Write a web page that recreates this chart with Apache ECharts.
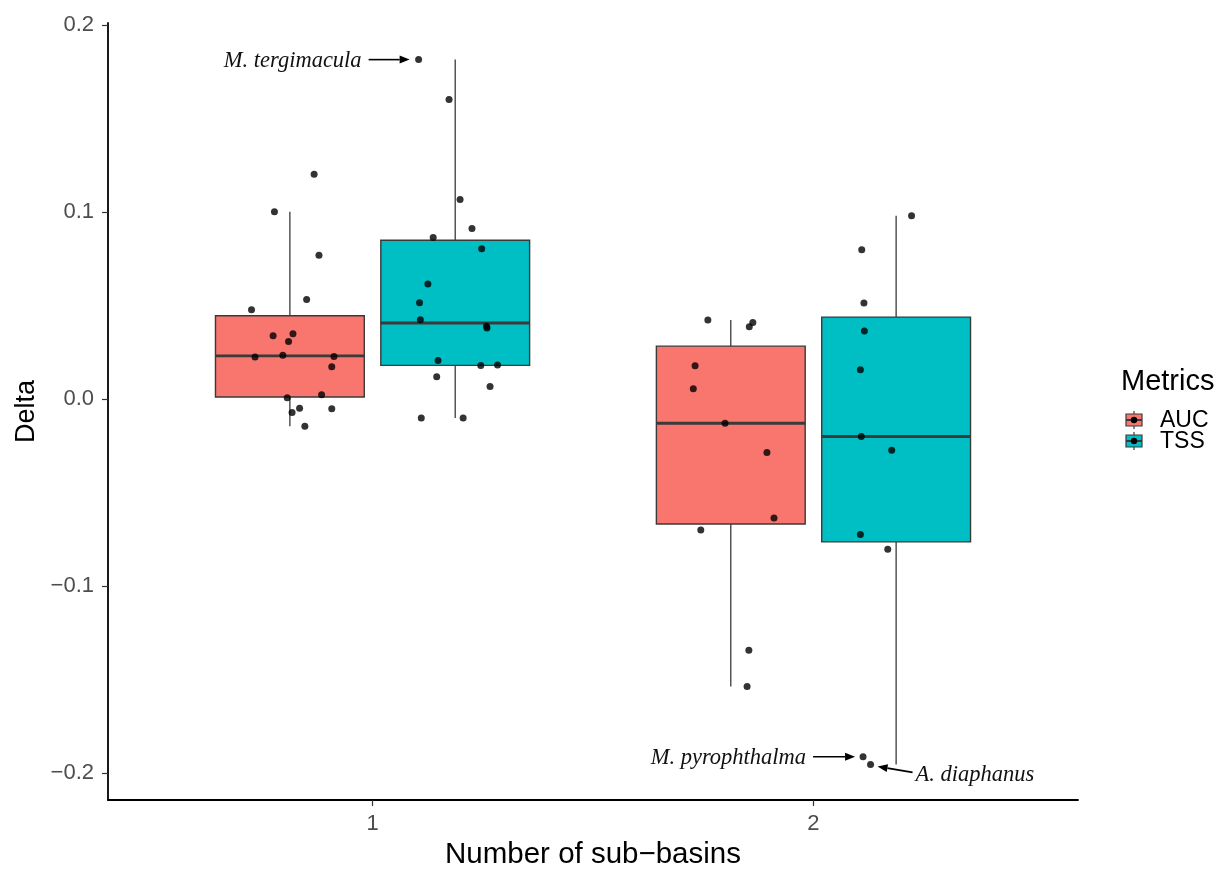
<!DOCTYPE html>
<html>
<head>
<meta charset="utf-8">
<script src="https://cdn.jsdelivr.net/npm/echarts@6/dist/echarts.min.js"></script>
<style>
  html, body { margin: 0; padding: 0; background: #ffffff; }
  #chart { width: 1222px; height: 875px; }
</style>
</head>
<body>
<div id="chart"></div>
<script>
// ---- data -------------------------------------------------------------
const categories = [1, 2];
const metrics = ['AUC', 'TSS'];
const yTicks = [-0.2, -0.1, 0, 0.1, 0.2];

// Delta per species, one sub-basin
const aucOne = [0.1204, 0.1003, 0.0770, 0.0533, 0.0478, 0.0339, 0.0350, 0.0309, 0.0226,
                0.0235, 0.0228, 0.0173, 0.0007, 0.0023, -0.0049, -0.0071, -0.0051, -0.0145];
const aucOneJitter = [0.055, -0.035, 0.066, 0.038, -0.087, -0.038, 0.007, -0.003, -0.079,
                      -0.016, 0.100, 0.095, -0.006, 0.072, 0.022, 0.005, 0.095, 0.034];
const tssOne = [0.1817, 0.1604, 0.1069, 0.0913, 0.0865, 0.0805, 0.0616, 0.0516, 0.0425,
                0.0390, 0.0381, 0.0207, 0.0180, 0.0182, 0.0120, 0.0067, -0.0101, -0.0101];
const tssOneJitter = [-0.083, -0.014, 0.011, 0.038, -0.050, 0.060, -0.062, -0.081, -0.079,
                      0.071, 0.072, -0.039, 0.058, 0.096, -0.042, 0.079, -0.077, 0.018];

// Delta per species, two sub-basins
const aucTwo = [0.0424, 0.0388, 0.0410, 0.0179, 0.0055, -0.0129, -0.0286, -0.0636, -0.0701,
                -0.1344, -0.1538];
const aucTwoJitter = [-0.052, 0.042, 0.050, -0.081, -0.085, -0.013, 0.082, 0.098, -0.068,
                      0.041, 0.037];
const tssTwo = [0.0982, 0.0800, 0.0514, 0.0364, 0.0157, -0.0200, -0.0274, -0.0724, -0.0804,
                -0.1914, -0.1955];
const tssTwoJitter = [0.035, -0.078, -0.073, -0.072, -0.081, -0.079, -0.010, -0.081, -0.019,
                      -0.075, -0.058];

// labelled species: [metric, category, index in that series, name]
const noteSpecies = [
  ['TSS', 1, 0, 'M. tergimacula'],
  ['TSS', 2, 9, 'M. pyrophthalma'],
  ['TSS', 2, 10, 'A. diaphanus']
];

// ---- layout / style ---------------------------------------------------
const metricColors = { AUC: '#F8766D', TSS: '#00BFC4' };
const dodge = 0.1875;
const boxWidth = 0.3375;
const boxStroke = '#3a3a3a';
const sans = '"Liberation Sans", Arial, Helvetica, sans-serif';
const serif = '"Liberation Serif", "Times New Roman", serif';

const groups = [
  { cat: 1, metric: 'AUC', values: aucOne, jitter: aucOneJitter },
  { cat: 1, metric: 'TSS', values: tssOne, jitter: tssOneJitter },
  { cat: 2, metric: 'AUC', values: aucTwo, jitter: aucTwoJitter },
  { cat: 2, metric: 'TSS', values: tssTwo, jitter: tssTwoJitter }
];

function centerOf(cat, metric) {
  return cat + (metric === 'AUC' ? -dodge : dodge);
}

function quantile(sorted, p) {
  const h = (sorted.length - 1) * p;
  const lo = Math.floor(h);
  const hi = Math.ceil(h);
  return sorted[lo] + (h - lo) * (sorted[hi] - sorted[lo]);
}

function boxStats(values) {
  const s = values.slice().sort((a, b) => a - b);
  const q1 = quantile(s, 0.25);
  const med = quantile(s, 0.5);
  const q3 = quantile(s, 0.75);
  const iqr = q3 - q1;
  const lo = Math.min(...s.filter(v => v >= q1 - 1.5 * iqr));
  const hi = Math.max(...s.filter(v => v <= q3 + 1.5 * iqr));
  return [lo, q1, med, q3, hi];
}

const boxData = groups.map(g => ({
  value: [centerOf(g.cat, g.metric)].concat(boxStats(g.values)),
  metric: g.metric
}));

const pointData = [];
groups.forEach(g => {
  g.values.forEach((v, i) => {
    pointData.push([centerOf(g.cat, g.metric) + g.jitter[i], v]);
  });
});

const noteData = noteSpecies.map(([metric, cat, idx, name]) => {
  const g = groups.find(q => q.metric === metric && q.cat === cat);
  return { value: [centerOf(cat, metric) + g.jitter[idx], g.values[idx]], name: name };
});

// arrow geometry relative to the labelled point (pixels)
const noteArrows = {
  'M. tergimacula': { tail: [-50, 0], tip: [-9, 0], align: 'right', textAt: [-57, 1] },
  'M. pyrophthalma': { tail: [-50, 0], tip: [-8, 0], align: 'right', textAt: [-57, 1] },
  'A. diaphanus': { tail: [42, 8], tip: [7, 2], align: 'left', textAt: [45, 11] }
};

function renderBox(params, api) {
  const xc = api.value(0);
  const w = api.size([boxWidth, 0])[0];
  const pLo = api.coord([xc, api.value(1)]);
  const pQ1 = api.coord([xc, api.value(2)]);
  const pMed = api.coord([xc, api.value(3)]);
  const pQ3 = api.coord([xc, api.value(4)]);
  const pHi = api.coord([xc, api.value(5)]);
  const cx = pQ1[0];
  const fill = metricColors[boxData[params.dataIndex].metric];
  return {
    type: 'group',
    children: [
      { type: 'line', shape: { x1: cx, y1: pHi[1], x2: cx, y2: pQ3[1] },
        style: { stroke: boxStroke, lineWidth: 1.3 } },
      { type: 'line', shape: { x1: cx, y1: pQ1[1], x2: cx, y2: pLo[1] },
        style: { stroke: boxStroke, lineWidth: 1.3 } },
      { type: 'rect', shape: { x: cx - w / 2, y: pQ3[1], width: w, height: pQ1[1] - pQ3[1] },
        style: { fill: fill, stroke: boxStroke, lineWidth: 1.4 } },
      { type: 'line', shape: { x1: cx - w / 2, y1: pMed[1], x2: cx + w / 2, y2: pMed[1] },
        style: { stroke: boxStroke, lineWidth: 2.8 } }
    ]
  };
}

function renderNote(params, api) {
  const p = api.coord([api.value(0), api.value(1)]);
  const name = noteData[params.dataIndex].name;
  const a = noteArrows[name];
  const tail = [p[0] + a.tail[0], p[1] + a.tail[1]];
  const tip = [p[0] + a.tip[0], p[1] + a.tip[1]];
  const ang = Math.atan2(tip[1] - tail[1], tip[0] - tail[0]);
  const hl = 10, hw = 4;
  const base = [tip[0] - hl * Math.cos(ang), tip[1] - hl * Math.sin(ang)];
  const nx = -Math.sin(ang), ny = Math.cos(ang);
  return {
    type: 'group',
    children: [
      { type: 'line', shape: { x1: tail[0], y1: tail[1], x2: base[0], y2: base[1] },
        style: { stroke: '#000', lineWidth: 1.6 } },
      { type: 'polygon',
        shape: { points: [tip, [base[0] + nx * hw, base[1] + ny * hw], [base[0] - nx * hw, base[1] - ny * hw]] },
        style: { fill: '#000' } },
      { type: 'text', x: p[0] + a.textAt[0], y: p[1] + a.textAt[1],
        style: { text: name, fill: '#111', font: 'italic 22.5px ' + serif,
                 align: a.align, verticalAlign: 'middle' } }
    ]
  };
}

function tickText(v) {
  if (Math.abs(v) < 1e-9) return '0.0';
  return (v < 0 ? '\u2212' : '') + Math.abs(v).toFixed(1);
}

function legendKey(y, metric) {
  const x = 1134;
  return {
    type: 'group',
    children: [
      { type: 'line', shape: { x1: x, y1: y - 9, x2: x, y2: y + 9 }, style: { stroke: boxStroke, lineWidth: 1.2 } },
      { type: 'rect', shape: { x: x - 8, y: y - 6, width: 16, height: 12 },
        style: { fill: metricColors[metric], stroke: boxStroke, lineWidth: 1.2 } },
      { type: 'line', shape: { x1: x - 8, y1: y, x2: x + 8, y2: y }, style: { stroke: boxStroke, lineWidth: 2 } },
      { type: 'circle', shape: { cx: x, cy: y, r: 3.2 }, style: { fill: '#000' } },
      { type: 'text', x: 1160, y: y + 1,
        style: { text: metric, font: '23px ' + sans, fill: '#000', verticalAlign: 'middle' } }
    ]
  };
}

const chart = echarts.init(document.getElementById('chart'), null, { renderer: 'canvas' });
chart.setOption({
  animation: false,
  backgroundColor: '#ffffff',
  grid: { left: 108, right: 144, top: 23, bottom: 67, containLabel: false },
  xAxis: {
    type: 'value',
    min: 0.4,
    max: 2.6,
    name: 'Number of sub\u2212basins',
    nameLocation: 'middle',
    nameGap: 38,
    nameTextStyle: { fontFamily: sans, fontSize: 29.5, color: '#000' },
    splitLine: { show: false },
    axisLine: { show: true, onZero: false, lineStyle: { color: '#000', width: 1.8 } },
    axisTick: { show: true, customValues: categories, length: 6, lineStyle: { color: '#333', width: 1.2 } },
    axisLabel: { customValues: categories, margin: 13, fontFamily: sans, fontSize: 22, color: '#4d4d4d',
                 formatter: v => String(v) }
  },
  yAxis: {
    type: 'value',
    min: -0.2146,
    max: 0.2013,
    name: 'Delta',
    nameLocation: 'middle',
    nameRotate: 90,
    nameGap: 68,
    nameTextStyle: { fontFamily: sans, fontSize: 27, color: '#000' },
    splitLine: { show: false },
    axisLine: { show: true, onZero: false, lineStyle: { color: '#000', width: 1.8 } },
    axisTick: { show: true, customValues: yTicks, length: 6, lineStyle: { color: '#333', width: 1.2 } },
    axisLabel: { customValues: yTicks, margin: 14, fontFamily: sans, fontSize: 22, color: '#4d4d4d',
                 formatter: tickText }
  },
  series: [
    { type: 'custom', name: 'boxes', renderItem: renderBox, data: boxData, z: 2, silent: true },
    { type: 'scatter', name: 'species', data: pointData, symbol: 'circle', symbolSize: 7,
      itemStyle: { color: '#000' }, z: 3, silent: true },
    { type: 'custom', name: 'notes', renderItem: renderNote, data: noteData, z: 4, silent: true }
  ],
  graphic: [
    { type: 'text', left: 1121, top: 367,
      style: { text: 'Metrics', font: '29px ' + sans, fill: '#000' } },
    legendKey(420, 'AUC'),
    legendKey(441, 'TSS')
  ]
});
</script>
</body>
</html>
